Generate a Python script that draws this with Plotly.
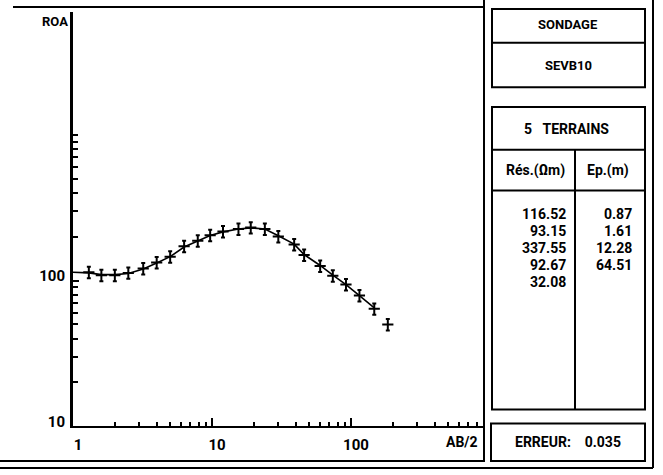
import plotly.graph_objects as go

W, H = 663, 475

# ---- data ----
ab2 = [1.3, 1.6, 2.0, 2.5, 3.2, 4.0, 5.0, 6.3, 7.9, 9.7, 12, 15.5, 19, 24,
       30, 39, 46, 60, 74, 92, 115, 147, 184]
rho_app = [114, 109, 109, 113, 121, 133, 146, 172, 188, 205, 217, 226, 231,
           226, 201, 177, 150, 126, 108, 94, 79, 64, 50]
model_ab2 = [1.0, 1.3, 1.6, 2.0, 2.5, 3.2, 4.0, 5.0, 6.3, 7.9, 9.7, 12, 15.5,
             19, 24, 30, 39, 46, 60, 74, 92, 115, 147]
model_rho = [114, 113, 110, 110, 112, 120, 132, 146, 170, 188, 204, 216, 226,
             230, 226, 203, 178, 151, 127, 109, 94, 79, 65]
err_pct = 9

x_major = [1, 10, 100]
x_major_text = ["1", "10", "100"]
y_major = [10, 100]
y_major_text = ["10", "100"]
minor_x = [m * d for d in (1, 10, 100) for m in range(2, 10)]
minor_y = [m * d for d in (10, 100) for m in range(2, 10)] + [1000]

sondage = "SEVB10"
n_layers = 5
res_layers = ["116.52", "93.15", "337.55", "92.67", "32.08"]
ep_layers = ["0.87", "1.61", "12.28", "64.51"]
erreur = "0.035"

FONT = "Roboto, Liberation Sans, sans-serif"


def px(x):
    return x / W


def py(y):
    return 1 - y / H


# plot area in pixels
X0, X1 = 73, 484
Y_BOT, Y_TOP = 430, 12
DEC_X = 139.0
DEC_Y = 147.0

fig = go.Figure()

fig.add_trace(go.Scatter(
    x=model_ab2, y=model_rho, mode="lines",
    line=dict(color="black", width=1.6), hoverinfo="skip", showlegend=False))

fig.add_trace(go.Scatter(
    x=ab2, y=rho_app, mode="markers",
    marker=dict(symbol="line-ew", size=8, line=dict(color="black", width=2)),
    error_y=dict(type="percent", value=err_pct, color="black", thickness=2, width=2),
    showlegend=False))

fig.update_xaxes(
    type="log", domain=[px(X0), px(X1)],
    range=[0, (X1 - X0) / DEC_X],
    showline=True, linecolor="black", linewidth=2,
    showgrid=False, zeroline=False,
    tickmode="array", tickvals=x_major, ticktext=x_major_text,
    ticks="inside", ticklen=8, tickwidth=2, tickcolor="black",
    ticklabelshift=5, ticklabelstandoff=4,
    tickfont=dict(family=FONT, size=15, color="black", weight="bold"),
    minor=dict(tickmode="array", tickvals=minor_x, ticks="inside",
               ticklen=4, tickwidth=2, tickcolor="black"),
)
fig.update_yaxes(
    type="log", domain=[py(Y_BOT), py(Y_TOP)],
    range=[1, 1 + (Y_BOT - Y_TOP) / DEC_Y],
    showline=True, linecolor="black", linewidth=3,
    showgrid=False, zeroline=False,
    tickmode="array", tickvals=y_major, ticktext=y_major_text,
    ticks="inside", ticklen=6, tickwidth=2, tickcolor="black",
    ticklabelshift=-5, ticklabelstandoff=2,
    tickfont=dict(family=FONT, size=15, color="black", weight="bold"),
    minor=dict(tickmode="array", tickvals=minor_y, ticks="inside",
               ticklen=5, tickwidth=2, tickcolor="black"),
)

shapes = []


def hline(y, xa, xb, w=2):
    shapes.append(dict(type="line", xref="paper", yref="paper",
                       x0=px(xa), x1=px(xb), y0=py(y), y1=py(y),
                       line=dict(color="black", width=w)))


def vline(x, ya, yb, w=2):
    shapes.append(dict(type="line", xref="paper", yref="paper",
                       x0=px(x), x1=px(x), y0=py(ya), y1=py(yb),
                       line=dict(color="black", width=w)))


def box(xa, ya, xb, yb, w=2):
    shapes.append(dict(type="rect", xref="paper", yref="paper",
                       x0=px(xa), x1=px(xb), y0=py(yb), y1=py(ya),
                       line=dict(color="black", width=w)))


# outer frame
hline(7, 13, 484, 2)
vline(484, 0, 466, 2)
vline(653, 0, 472, 2)
hline(465, 0, 484, 2)
hline(472, 0, 653, 2)

# right panel boxes
box(492, 9, 645, 88, 2)
hline(43, 492, 645, 2)
box(492, 108, 645, 413, 2)
hline(151, 492, 645, 2)
hline(192, 492, 645, 2)
vline(575, 151, 413, 2)
box(491, 427, 645, 465, 2)

fig.update_layout(shapes=shapes)

ann = []


def text(x, y, s, size=14, xanchor="center"):
    ann.append(dict(xref="paper", yref="paper", x=px(x), y=py(y), text=s,
                    showarrow=False, xanchor=xanchor, yanchor="middle",
                    font=dict(family=FONT, size=size, color="black", weight="bold")))


text(55, 22, "ROA", 13)
text(462, 446, "AB/2", 14)
text(568, 25, "SONDAGE", 13)
text(568, 66, sondage, 13)
text(566, 130, f"{n_layers}&nbsp;&nbsp;&nbsp;TERRAINS", 14)
text(535, 172, "Rés.(Ωm)", 14)
text(608, 172, "Ep.(m)", 14)
text(568, 446, f"ERREUR:&nbsp;&nbsp;&nbsp;&nbsp;{erreur}", 14)

ROW0, ROWH = 216, 17
for i, v in enumerate(res_layers):
    text(568, ROW0 + i * ROWH, v, 14, xanchor="right")
for i, v in enumerate(ep_layers):
    text(634, ROW0 + i * ROWH, v, 14, xanchor="right")

fig.update_layout(
    annotations=ann,
    width=W, height=H,
    margin=dict(l=0, r=0, t=0, b=0),
    paper_bgcolor="white", plot_bgcolor="white",
    showlegend=False,
)

fig.write_html("out.html")
